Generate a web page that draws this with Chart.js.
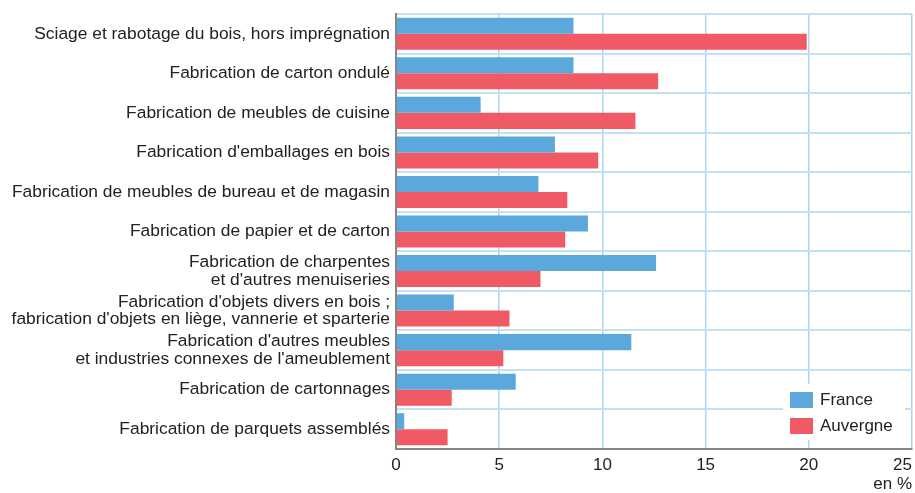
<!DOCTYPE html>
<html>
<head>
<meta charset="utf-8">
<script src="https://cdn.jsdelivr.net/npm/chart.js@4.4.1/dist/chart.umd.min.js"></script>
<style>
  html, body { margin: 0; padding: 0; background: #fff; }
  #chart { display: block; }
</style>
</head>
<body>
<canvas id="chart" width="915" height="493"></canvas>
<script>
const categories = [
  ["Sciage et rabotage du bois, hors imprégnation"],
  ["Fabrication de carton ondulé"],
  ["Fabrication de meubles de cuisine"],
  ["Fabrication d'emballages en bois"],
  ["Fabrication de meubles de bureau et de magasin"],
  ["Fabrication de papier et de carton"],
  ["Fabrication de charpentes", "et d'autres menuiseries"],
  ["Fabrication d'objets divers en bois ;", "fabrication d'objets en liège, vannerie et sparterie"],
  ["Fabrication d'autres meubles", "et industries connexes de l'ameublement"],
  ["Fabrication de cartonnages"],
  ["Fabrication de parquets assemblés"],
];
const france = [8.6, 8.6, 4.1, 7.7, 6.9, 9.3, 12.6, 2.8, 11.4, 5.8, 0.4];
const auvergne = [19.9, 12.7, 11.6, 9.8, 8.3, 8.2, 7.0, 5.5, 5.2, 2.7, 2.5];
const xTicks = [0, 5, 10, 15, 20, 25];

const FONT = "'Liberation Sans', Arial, Helvetica, sans-serif";
const blue = "#5ba8dc";
const red = "#f05a64";
const gridBlue = "#aad4ef";

// legend drawn inside the plot, bottom right, on a white box
const insideLegend = {
  id: "insideLegend",
  afterDraw(chart) {
    const c = chart.ctx;
    c.save();
    c.fillStyle = "#fff";
    c.fillRect(783, 384, 122, 56);
    c.font = "17px " + FONT;
    c.textBaseline = "middle";
    chart.data.datasets.forEach((ds, i) => {
      const y = 400 + i * 26;
      c.fillStyle = ds.backgroundColor;
      c.fillRect(790, y - 8, 23, 16);
      c.fillStyle = "#222";
      c.fillText(ds.label, 820, y);
    });
    c.restore();
  },
};

// last tick label ("25") ends at the right edge instead of being centred
const lastTickRight = {
  id: "lastTickRight",
  beforeDraw(chart) {
    const items = chart.scales.x.getLabelItems();
    if (items.length) items[items.length - 1].options.textAlign = "right";
  },
};

new Chart(document.getElementById("chart"), {
  type: "bar",
  data: {
    labels: categories,
    datasets: [
      { label: "France", data: france, backgroundColor: blue },
      { label: "Auvergne", data: auvergne, backgroundColor: red },
    ],
  },
  plugins: [insideLegend, lastTickRight],
  options: {
    indexAxis: "y",
    responsive: false,
    animation: false,
    categoryPercentage: 0.81,
    barPercentage: 1.0,
    layout: { padding: { top: 14, right: 3, left: 0, bottom: 0 } },
    plugins: { legend: { display: false }, tooltip: { enabled: false } },
    scales: {
      x: {
        min: 0,
        max: 25,
        afterBuildTicks: (s) => { s.ticks = xTicks.map((v) => ({ value: v })); },
        afterFit: (s) => { s.height = 44; s.paddingLeft = 0; s.paddingRight = 0; },
        grid: { color: gridBlue, lineWidth: 1.5, drawTicks: false },
        border: { color: "#858585", width: 2 },
        ticks: { padding: 6, color: "#222", font: { family: FONT, size: 17 } },
        title: {
          display: true,
          text: "en %",
          align: "end",
          color: "#222",
          padding: { top: 0, bottom: 0 },
          font: { family: FONT, size: 17, lineHeight: 1 },
        },
      },
      y: {
        afterFit: (s) => { s.width = 396; s.paddingTop = 0; s.paddingBottom = 0; },
        grid: { color: "#c3e1f4", lineWidth: 2, drawTicks: false },
        border: { color: "#858585", width: 2 },
        ticks: { padding: 6, color: "#222", font: { family: FONT, size: 17.4, lineHeight: 1.02 } },
      },
    },
  },
});
</script>
</body>
</html>
